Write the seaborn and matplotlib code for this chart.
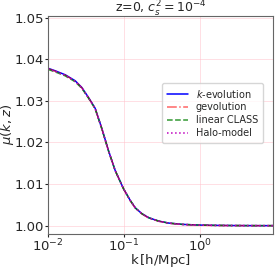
import numpy as np
import pandas as pd
import matplotlib
matplotlib.use("Agg")
import matplotlib.pyplot as plt
import seaborn as sns

# values
k_vals = [0.0100, 0.0124, 0.0168, 0.0227, 0.0277, 0.0339, 0.0415, 0.0509, 0.0621,
          0.0761, 0.0980, 0.120, 0.140, 0.171, 0.209, 0.283, 0.383, 0.574, 0.951,
          1.5, 2.5, 4.0, 6.0, 9.0]
mu_kevol = [1.03782, 1.03722, 1.03626, 1.03482, 1.03322, 1.03082, 1.02822, 1.02331,
            1.01804, 1.01326, 1.00886, 1.00606, 1.00426, 1.00287, 1.00192, 1.00110,
            1.00062, 1.00031, 1.00014, 1.00007, 1.00003, 1.00001, 1.00000, 1.00000]
mu_gevol = [1.03772, 1.03712, 1.03616, 1.03472, 1.03314, 1.03075, 1.02815, 1.02326,
            1.01800, 1.01322, 1.00882, 1.00601, 1.00420, 1.00281, 1.00186, 1.00105,
            1.00058, 1.00028, 1.00012, 1.00005, 1.00002, 1.00001, 1.00000, 1.00000]
mu_class = [1.03755, 1.03695, 1.03600, 1.03458, 1.03302, 1.03066, 1.02808, 1.02322,
            1.01798, 1.01322, 1.00884, 1.00605, 1.00425, 1.00286, 1.00191, 1.00110,
            1.00062, 1.00031, 1.00014, 1.00007, 1.00003, 1.00001, 1.00000, 1.00000]
mu_halo = [1.03768, 1.03708, 1.03612, 1.03470, 1.03312, 1.03074, 1.02815, 1.02327,
           1.01801, 1.01324, 1.00884, 1.00604, 1.00424, 1.00285, 1.00190, 1.00108,
           1.00060, 1.00030, 1.00013, 1.00006, 1.00002, 1.00001, 1.00000, 1.00000]

labels = [r"$k$-evolution", "gevolution", "linear CLASS", "Halo-model"]
series = [mu_kevol, mu_gevol, mu_class, mu_halo]
colors = ["blue", "red", "green", "m"]
styles = ["-", "-.", "--", ":"]
alphas = [1.0, 0.6, 0.8, 1.0]

sns.set_style("white")
plt.rcParams['font.family'] = ['DejaVu Sans']

fig = plt.figure(figsize=(2.78, 2.68), dpi=100)
ax = fig.add_axes([0.173, 0.127, 0.809, 0.815])

for lab, mu, c, ls, a in zip(labels, series, colors, styles, alphas):
    df = pd.DataFrame({"k": k_vals, "mu": mu})
    sns.lineplot(data=df, x="k", y="mu", ax=ax, color=c, linestyle=ls,
                 linewidth=1.1, alpha=a, label=lab)

ax.set_xscale("log")
ax.set_xlim(0.01, 9.0)
ax.set_ylim(0.998, 1.0505)
ax.set_yticks([1.00, 1.01, 1.02, 1.03, 1.04, 1.05])
ax.grid(True, color="pink", linewidth=0.6, alpha=0.6)
ax.tick_params(axis="both", labelsize=9.5, length=2, pad=1, direction="out",
               left=True, bottom=True)
ax.tick_params(axis="x", which="minor", bottom=False)
ax.set_xlabel(r"k$\,$[h/Mpc]", fontsize=9.5, labelpad=-2)
ax.set_ylabel(r"$\mu(k,z)$", fontsize=9.5, labelpad=-1)
ax.set_title(r"z=0, $c_s^2=10^{-4}$", fontsize=9, pad=2)
for s in ax.spines.values():
    s.set_color("0.4")
    s.set_linewidth(0.8)

ax.legend(loc="upper left", bbox_to_anchor=(0.484, 0.715), fontsize=7,
          frameon=True, handlelength=2.2, labelspacing=0.3, borderpad=0.5)

fig.savefig("out.png", dpi=100)
